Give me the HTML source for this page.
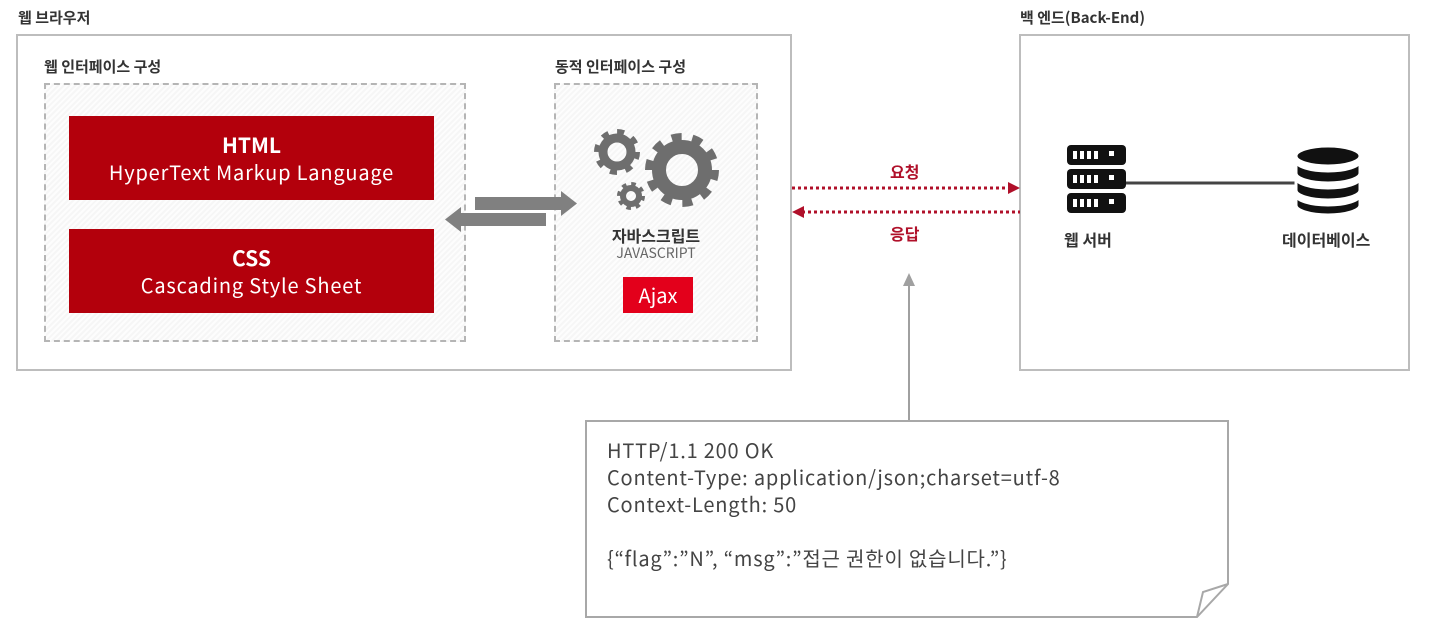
<!DOCTYPE html>
<html><head><meta charset="utf-8"><style>
html,body{margin:0;padding:0;background:#fff;}
body{width:1430px;height:636px;position:relative;overflow:hidden;font-family:"Noto Sans CJK KR","Liberation Sans",sans-serif;color:#333;}
.a{position:absolute;}
.lbl{font-size:15px;font-weight:bold;color:#333;line-height:20px;}
.box{border:2px solid #bdbdbd;box-sizing:border-box;}
.dash{border:2px dashed #b5b5b5;box-sizing:border-box;background:repeating-linear-gradient(135deg,#f6f6f6 0 2px,#fdfdfd 2px 4px);}
.red{background:#b3000c;color:#fff;text-align:center;box-sizing:border-box;}
.red b{display:block;font-size:21px;line-height:26px;margin-top:16px;}
.red span{display:block;font-size:20px;line-height:26px;margin-top:1px;letter-spacing:0.8px;}
.note{font-size:20px;color:#444;line-height:27px;letter-spacing:0.8px;}
</style></head><body>
<div class="a lbl" style="left:18px;top:8px">웹 브라우저</div>
<div class="a box" style="left:16px;top:34px;width:776px;height:337px"></div>
<div class="a lbl" style="left:44px;top:57px">웹 인터페이스 구성</div>
<div class="a dash" style="left:44px;top:83px;width:422px;height:259px"></div>
<div class="a red" style="left:69px;top:116px;width:365px;height:84px"><b>HTML</b><span>HyperText Markup Language</span></div>
<div class="a red" style="left:69px;top:229px;width:365px;height:84px"><b>CSS</b><span>Cascading Style Sheet</span></div>
<div class="a lbl" style="left:555px;top:57px">동적 인터페이스 구성</div>
<div class="a dash" style="left:554px;top:83px;width:204px;height:259px"></div>
<div class="a" style="left:554px;top:224px;width:204px;text-align:center;font-size:16px;line-height:22px;font-weight:bold;color:#333">자바스크립트</div>
<div class="a" style="left:554px;top:244px;width:204px;text-align:center;font-size:14px;line-height:18px;color:#666">JAVASCRIPT</div>
<div class="a" style="left:623px;top:277px;width:70px;height:36px;background:#e3001b;color:#fff;font-size:20px;text-align:center;line-height:36px">Ajax</div>

<div class="a lbl" style="left:1020px;top:8px">백 엔드(Back-End)</div>
<div class="a box" style="left:1019px;top:34px;width:391px;height:337px"></div>
<div class="a" style="left:1064px;top:228px;font-size:16px;line-height:22px;font-weight:bold;color:#333">웹 서버</div>
<div class="a" style="left:1282px;top:228px;font-size:16px;line-height:22px;font-weight:bold;color:#333">데이터베이스</div>
<div class="a" style="left:890px;top:160px;font-size:16px;line-height:22px;font-weight:bold;color:#b0102a">요청</div>
<div class="a" style="left:890px;top:222px;font-size:16px;line-height:22px;font-weight:bold;color:#b0102a">응답</div>

<svg class="a" style="left:0;top:0" width="1430" height="636">
  <rect x="475" y="197" width="88" height="13" fill="#808080"/>
  <polygon points="561,191 577,203.5 561,216" fill="#808080"/>
  <rect x="458" y="213" width="88" height="13" fill="#808080"/>
  <polygon points="461,207 445,219.5 461,232" fill="#808080"/>
  <g fill="none" stroke="#6e6e6e">
    <circle cx="682" cy="170" r="23" stroke-width="14"/>
    <circle cx="682" cy="170" r="33" stroke-width="8" stroke-dasharray="10 10.7"/>
    <circle cx="617" cy="152" r="14" stroke-width="9"/>
    <circle cx="617" cy="152" r="20" stroke-width="6" stroke-dasharray="7 8.7"/>
    <circle cx="631" cy="196" r="8" stroke-width="6"/>
    <circle cx="631" cy="196" r="12" stroke-width="4" stroke-dasharray="4.5 4.9"/>
  </g>
  <line x1="792" y1="188" x2="1010" y2="188" stroke="#b0102a" stroke-width="3" stroke-dasharray="3 3"/>
  <polygon points="1008,182 1020,188 1008,194" fill="#b0102a"/>
  <line x1="802" y1="212" x2="1020" y2="212" stroke="#b0102a" stroke-width="3" stroke-dasharray="3 3"/>
  <polygon points="804,206 792,212 804,218" fill="#b0102a"/>
  <g fill="#111">
    <rect x="1067" y="145" width="59" height="20" rx="4"/>
    <rect x="1067" y="169" width="59" height="20" rx="4"/>
    <rect x="1067" y="193" width="59" height="20" rx="4"/>
  </g>
  <g fill="#fff">
    <rect x="1073" y="151" width="4" height="8"/><rect x="1080" y="151" width="4" height="8"/><rect x="1087" y="151" width="4" height="8"/><rect x="1094" y="151" width="4" height="8"/><rect x="1109" y="151" width="5" height="5"/>
    <rect x="1073" y="175" width="4" height="8"/><rect x="1080" y="175" width="4" height="8"/><rect x="1087" y="175" width="4" height="8"/><rect x="1094" y="175" width="4" height="8"/><rect x="1109" y="175" width="5" height="5"/>
    <rect x="1073" y="199" width="4" height="8"/><rect x="1080" y="199" width="4" height="8"/><rect x="1087" y="199" width="4" height="8"/><rect x="1094" y="199" width="4" height="8"/><rect x="1109" y="199" width="5" height="5"/>
  </g>
  <line x1="1126" y1="183" x2="1298" y2="183" stroke="#444" stroke-width="3"/>
  <g fill="#111" stroke="#fff" stroke-width="3">
    <path d="M1296,195 v10 a32,10 0 0 0 64,0 v-10 a32,10 0 0 1 -64,0z"/>
    <path d="M1296,178 v12 a32,10 0 0 0 64,0 v-12 a32,10 0 0 1 -64,0z"/>
    <path d="M1296,161 v12 a32,10 0 0 0 64,0 v-12 a32,10 0 0 1 -64,0z"/>
    <ellipse cx="1328" cy="156" rx="32" ry="10"/>
  </g>
  <line x1="909" y1="284" x2="909" y2="420" stroke="#a0a0a0" stroke-width="2"/>
  <polygon points="903,286 909,273 915,286" fill="#a0a0a0"/>
  <path d="M586,421 H1228 V584 L1197,617 H586 Z" fill="#fff" stroke="#a8a8a8" stroke-width="2"/>
  <path d="M1228,584 L1203,592 L1197,617" fill="none" stroke="#a8a8a8" stroke-width="2"/>
</svg>
<div class="a note" style="left:607px;top:436px">HTTP/1.1 200 OK<br>Content-Type: application/json;charset=utf-8<br>Context-Length: 50<br><br>{“flag”:”N”, “msg”:”접근 권한이 없습니다.”}</div>
</body></html>
